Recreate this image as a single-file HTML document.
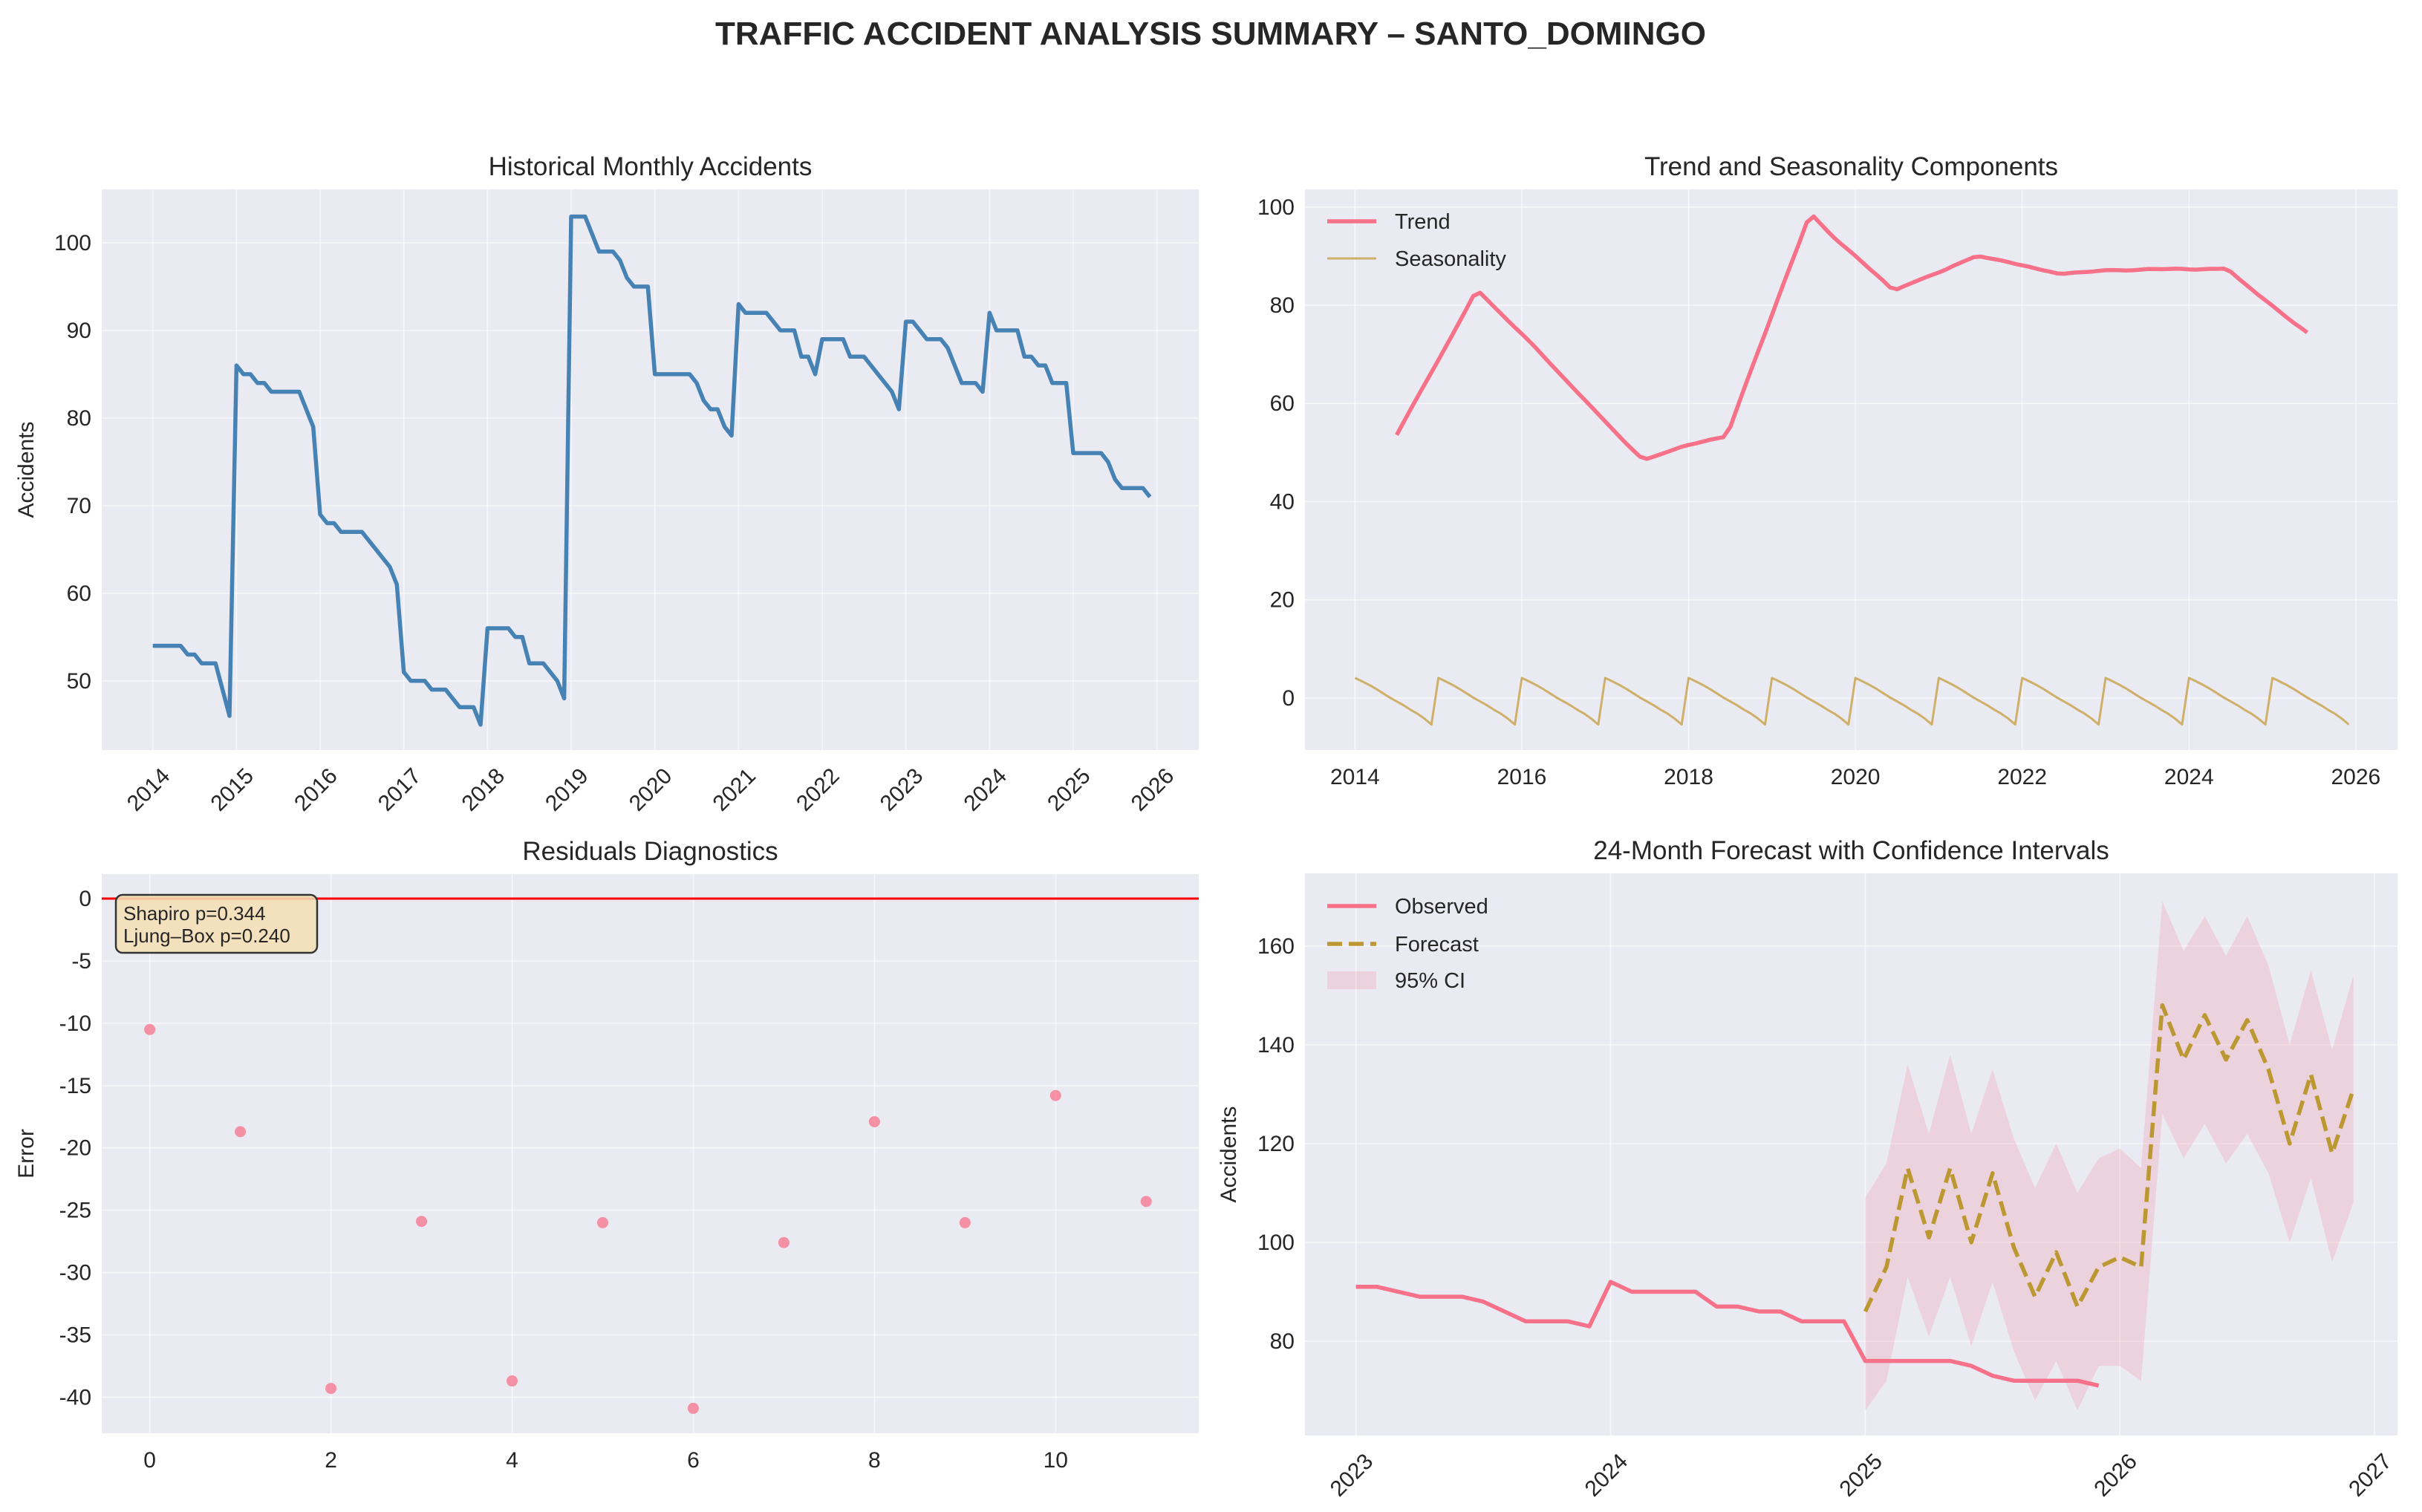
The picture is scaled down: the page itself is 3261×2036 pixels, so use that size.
<!DOCTYPE html>
<html><head><meta charset="utf-8"><style>
html,body{margin:0;padding:0;background:#fff;}
svg{display:block;font-family:"Liberation Sans",Arial,sans-serif;}
</style></head><body>
<svg id="fig" width="3261" height="2036" viewBox="0 0 3261 2036" xmlns="http://www.w3.org/2000/svg">
<text x="1630" y="60" text-anchor="middle" font-size="44" font-weight="bold" fill="#262626">TRAFFIC ACCIDENT ANALYSIS SUMMARY – SANTO_DOMINGO</text>
</svg>
<script>
// ---------- data ----------
const histYears = [2014,2015,2016,2017,2018,2019,2020,2021,2022,2023,2024,2025];
const histValues = [
54,54,54,54,54,53,53,52,52,52,49,46,
86,85,85,84,84,83,83,83,83,83,81,79,
69,68,68,67,67,67,67,66,65,64,63,61,
51,50,50,50,49,49,49,48,47,47,47,45,
56,56,56,56,55,55,52,52,52,51,50,48,
103,103,103,101,99,99,99,98,96,95,95,95,
85,85,85,85,85,85,84,82,81,81,79,78,
93,92,92,92,92,91,90,90,90,87,87,85,
89,89,89,89,87,87,87,86,85,84,83,81,
91,91,90,89,89,89,88,86,84,84,84,83,
92,90,90,90,90,87,87,86,86,84,84,84,
76,76,76,76,76,75,73,72,72,72,72,71];
const seasonalPattern = [4.1,3.4,2.7,1.9,1.0,0.1,-0.7,-1.5,-2.4,-3.2,-4.2,-5.4];
const residualValues = [-10.5,-18.7,-39.3,-25.9,-38.7,-26.0,-40.9,-27.6,-17.9,-26.0,-15.8,-24.3];
const forecastValues = [86,95,115,101,115,100,114,99,89,98,87,95,97,95,148,137,146,137,145,135,120,134,118,131];
const ciUpper = [109,116,136,122,138,122,135,121,111,120,110,117,119,115,169,159,166,158,166,156,140,155,139,154];
const ciLower = [66,72,93,81,93,79,92,78,68,76,66,75,75,72,126,117,124,116,122,114,100,113,96,108];
const p1Ticks = [50,60,70,80,90,100];
const p1XTicks = [2014,2015,2016,2017,2018,2019,2020,2021,2022,2023,2024,2025,2026];
const p2Ticks = [0,20,40,60,80,100];
const p2XTicks = [2014,2016,2018,2020,2022,2024,2026];
const p3Ticks = [0,-5,-10,-15,-20,-25,-30,-35,-40];
const p3XTicks = [0,2,4,6,8,10];
const p4Ticks = [80,100,120,140,160];
const p4XTicks = [2023,2024,2025,2026,2027];

// ---------- helpers ----------
const NS = "http://www.w3.org/2000/svg";
const fig = document.getElementById('fig');
function mk(tag, attrs, parent){const e=document.createElementNS(NS,tag);for(const k in attrs)e.setAttribute(k,attrs[k]);(parent||fig).appendChild(e);return e;}
function axes(box, xd, yd){
  const sx=v=>box.x0+(v-xd[0])/(xd[1]-xd[0])*(box.x1-box.x0);
  const sy=v=>box.y1-(v-yd[0])/(yd[1]-yd[0])*(box.y1-box.y0);
  return {sx,sy};
}
function frame(box,name){
  const r=mk('rect',{x:box.x0,y:box.y0,width:box.x1-box.x0,height:box.y1-box.y0,fill:'#EAEAF2'});
  
  
}
function grid(box,A,xt,yt,xfmt,rot,name){
  yt.forEach(v=>{
    const y=A.sy(v);
    const l=mk('line',{x1:box.x0,x2:box.x1,y1:y,y2:y,stroke:'#fff','stroke-width':1.6,'stroke-opacity':0.6});
    
    
    const t=mk('text',{x:box.x0-14,y:y+10,'text-anchor':'end','font-size':30,fill:'#262626'});
    t.textContent=v;
    
    
  });
  xt.forEach(v=>{
    const x=A.sx(v);
    const l=mk('line',{x1:x,x2:x,y1:box.y0,y2:box.y1,stroke:'#fff','stroke-width':1.6,'stroke-opacity':0.6});
    
    
    let t;
    if(rot){
      t=mk('text',{x:x+10,y:box.y1+22,'text-anchor':'end','font-size':30,fill:'#262626',transform:`rotate(-45 ${x+10} ${box.y1+22})`,'dominant-baseline':'hanging'});
    } else {
      t=mk('text',{x:x,y:box.y1+46,'text-anchor':'middle','font-size':30,fill:'#262626'});
    }
    t.textContent=xfmt?xfmt(v):v;
    
    
  });
}
function title(box,txt,name){
  const t=mk('text',{x:(box.x0+box.x1)/2,y:box.y0-19,'text-anchor':'middle','font-size':35,fill:'#262626'});
  t.textContent=txt;
  
  
}
function ylabel(box,txt,x,name){
  const cy=(box.y0+box.y1)/2;
  const t=mk('text',{x:x,y:cy,'text-anchor':'middle','font-size':30,fill:'#262626',transform:`rotate(-90 ${x} ${cy})`});
  t.textContent=txt;
  
  
}
function path(pts){return pts.map((p,i)=>(i?'L':'M')+p[0].toFixed(1)+','+p[1].toFixed(1)).join('');}

// ---------- panel 1 ----------
const B1={x0:137,x1:1614,y0:255,y1:1010};
frame(B1,'historical');
const A1=axes(B1,[2013.39,2026.5],[42.1,106.1]);
grid(B1,A1,p1XTicks,p1Ticks,null,true,'historical');
title(B1,'Historical Monthly Accidents','historical');
ylabel(B1,'Accidents',45,'historical');
const histX = histValues.map((v,i)=>histYears[0]+i/12);
const h1=mk('path',{d:path(histValues.map((v,i)=>[A1.sx(histX[i]),A1.sy(v)])),fill:'none',stroke:'#4682B4','stroke-width':5.5,'stroke-linejoin':'round'});



// ---------- panel 2 ----------
const B2={x0:1757,x1:3228,y0:255,y1:1010};
frame(B2,'components');
const A2=axes(B2,[2013.4,2026.5],[-10.6,103.6]);
grid(B2,A2,p2XTicks,p2Ticks,null,false,'components');
title(B2,'Trend and Seasonality Components','components');
// trend = centered 2x12 moving average of the observed series
const trendPts=[];
for(let i=6;i<histValues.length-6;i++){
  let s=0.5*histValues[i-6]+0.5*histValues[i+6];
  for(let k=-5;k<=5;k++) s+=histValues[i+k];
  trendPts.push([A2.sx(histX[i]),A2.sy(s/12)]);
}
const tr=mk('path',{d:path(trendPts),fill:'none',stroke:'#F77189','stroke-width':5.5,'stroke-linejoin':'round'});


const se=mk('path',{d:path(histValues.map((v,i)=>[A2.sx(histX[i]),A2.sy(seasonalPattern[i%12])])),fill:'none',stroke:'#CFB06A','stroke-width':3,'stroke-linejoin':'round'});


[['Trend','#F77189',5.5,298],['Seasonality','#CFB06A',3,348]].forEach(([n,c,w,y])=>{
  const g=mk('g',{});
  
  
  mk('line',{x1:1787,x2:1853,y1:y,y2:y,stroke:c,'stroke-width':w},g);
  const t=mk('text',{x:1878,y:y+10,'font-size':29,fill:'#262626'},g);t.textContent=n;
});

// ---------- panel 3 ----------
const B3={x0:137,x1:1614,y0:1177,y1:1930};
frame(B3,'residuals');
const A3=axes(B3,[-0.53,11.58],[-42.9,1.97]);
grid(B3,A3,p3XTicks,p3Ticks,null,false,'residuals');
title(B3,'Residuals Diagnostics','residuals');
ylabel(B3,'Error',45,'residuals');
const zl=mk('line',{x1:B3.x0,x2:B3.x1,y1:A3.sy(0),y2:A3.sy(0),stroke:'#FF0000','stroke-width':3});


residualValues.forEach((v,i)=>{
  const c=mk('circle',{cx:A3.sx(i),cy:A3.sy(v),r:7.5,fill:'#F77189','fill-opacity':0.75});
  
  
});
const tb=mk('g',{});


mk('rect',{x:156,y:1205,width:271,height:78,rx:9,fill:'#F5DEB3','fill-opacity':0.85,stroke:'#333','stroke-width':2.5},tb);
const t1=mk('text',{x:166,y:1239,'font-size':26,fill:'#262626'},tb);t1.textContent='Shapiro p=0.344';
const t2=mk('text',{x:166,y:1269,'font-size':26,fill:'#262626'},tb);t2.textContent='Ljung–Box p=0.240';

// ---------- panel 4 ----------
const B4={x0:1757,x1:3228,y0:1176,y1:1933};
frame(B4,'forecast');
const A4=axes(B4,[2022.8,2027.09],[60.9,174.7]);
grid(B4,A4,p4XTicks,p4Ticks,null,true,'forecast');
title(B4,'24-Month Forecast with Confidence Intervals','forecast');
ylabel(B4,'Accidents',1664,'forecast');
const fX=forecastValues.map((v,i)=>2025+i/12);
const up=ciUpper.map((v,i)=>[A4.sx(fX[i]),A4.sy(v)]);
const lo=ciLower.map((v,i)=>[A4.sx(fX[i]),A4.sy(v)]).reverse();
const ci=mk('path',{d:path(up.concat(lo))+'Z',fill:'#F77189','fill-opacity':0.2});


const obsStart=histValues.length-36;
const ob=mk('path',{d:path(histValues.slice(obsStart).map((v,i)=>[A4.sx(histX[obsStart+i]),A4.sy(v)])),fill:'none',stroke:'#F77189','stroke-width':5.5,'stroke-linejoin':'round'});


const fc=mk('path',{d:path(forecastValues.map((v,i)=>[A4.sx(fX[i]),A4.sy(v)])),fill:'none',stroke:'#BB9832','stroke-width':5.5,'stroke-dasharray':'20,9','stroke-linejoin':'round'});


const lg=[['Observed',1220],['Forecast',1271],['95% CI',1320]];
lg.forEach(([n,y],k)=>{
  const g=mk('g',{});
  
  
  if(k===0) mk('line',{x1:1787,x2:1853,y1:y,y2:y,stroke:'#F77189','stroke-width':5.5},g);
  else if(k===1) mk('line',{x1:1787,x2:1853,y1:y,y2:y,stroke:'#BB9832','stroke-width':5.5,'stroke-dasharray':'20,9'},g);
  else mk('rect',{x:1787,y:y-12,width:66,height:24,fill:'#F77189','fill-opacity':0.2},g);
  const t=mk('text',{x:1878,y:y+10,'font-size':29,fill:'#262626'},g);t.textContent=n;
});
</script>
</body></html>
